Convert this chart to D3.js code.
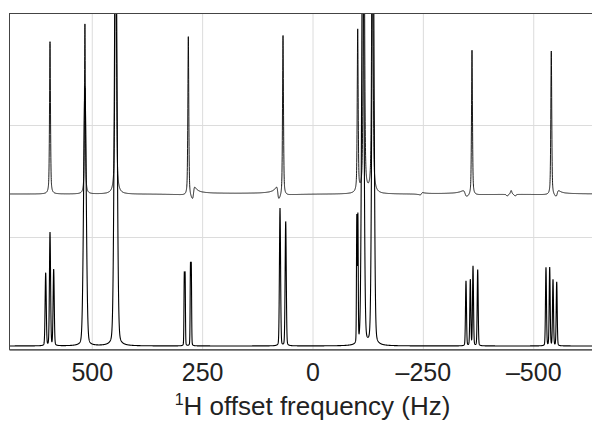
<!DOCTYPE html>
<html>
<head>
<meta charset="utf-8">
<script src="https://cdn.jsdelivr.net/npm/d3@7"></script>
<style>
  body { margin: 0; background: #fff; }
  text { font-family: "Liberation Sans", Arial, sans-serif; fill: #222; }
</style>
</head>
<body>
<div id="chart"></div>
<script>
/* CONSTANTS AND GLOBALS */
const width = 592,
  height = 425,
  margin = { top: 13, left: 9 },
  plotW = 607,
  plotH = 336;

// x ticks / grid (Hz), y grid (intensity units)
const xTicks = [500, 250, 0, -250, -500];
const yGrid = [1, 2];

// upper trace: peak list (Hz, height, FWHM in Hz)
const upperBase = 1.384;
const upperPos = [594.6, 515.5, 445.8, 281.3, 66.8, -102.4, -116.5, -135.6, -361.3, -540.9, -450, -441, -459];
const upperAmp = [1.36, 1.52, 3.0, 1.43, 1.44, 1.45, 3.0, 3.0, 1.30, 1.29, 0.035, -0.016, -0.016];
const upperFwhm = [2.5, 2.5, 3.5, 2.5, 2.5, 2.5, 3.5, 3.5, 2.5, 2.5, 4, 4, 4];

// upper trace: small phase-twisted (dispersive) artefacts
const dispPos = [269.4, 78.6, -246.8, -345.6, -554.4];
const dispAmp = [-0.054, 0.054, -0.01, 0.027, -0.027];
const dispGamma = [2.9, 2.9, 3, 4.5, 3.4];

// lower trace: resolved multiplets
const lowerBase = 0.027;
const lowerPos = [604.4, 594.6, 586.3, 515.5, 445.8,
  290.4, 288.6, 276.4, 274.6, 73.6, 60.7,
  -100.4, -102.8, -114, -137,
  -347.7, -357.5, -363.6, -374.2,
  -528.9, -537.3, -544.8, -553.2];
const lowerAmp = [0.65, 1.01, 0.68, 2.31, 4.0,
  0.62, 0.62, 0.70, 0.70, 1.23, 1.11,
  1.12, 1.12, 4.0, 4.0,
  0.58, 0.59, 0.71, 0.68,
  0.70, 0.70, 0.59, 0.57];
const lowerFwhm = [3, 3, 3, 7, 7,
  1.7, 1.7, 1.7, 1.7, 3, 3,
  1.8, 1.8, 6, 6,
  2.6, 2.6, 2.6, 2.6,
  2.6, 2.6, 2.6, 2.6];

let svg, xScale, yScale;

/* LINESHAPE: pseudo-Voigt sum of the peak list */
function trace(pos, amp, fwhm, eta, base, dPos = [], dAmp = [], dGam = []) {
  const pts = [];
  for (let hz = 690; hz >= -690; hz -= 0.15) {
    let v = base;
    for (let i = 0; i < pos.length; i++) {
      const u = (hz - pos[i]) / (fwhm[i] / 2);
      const lor = 1 / (1 + u * u);
      const gau = Math.exp(-Math.LN2 * u * u);
      v += amp[i] * (eta * lor + (1 - eta) * gau);
    }
    for (let i = 0; i < dPos.length; i++) {
      const u = (hz - dPos[i]) / dGam[i];
      v += dAmp[i] * 2 * u / (1 + u * u);
    }
    pts.push([hz, v]);
  }
  return pts;
}

function init() {
  xScale = d3.scaleLinear()
    .domain([687.5, -687.5])
    .range([margin.left, margin.left + plotW]);

  yScale = d3.scaleLinear()
    .domain([0, 3])
    .range([margin.top + plotH, margin.top]);

  svg = d3.select("#chart")
    .append("svg")
    .attr("width", width)
    .attr("height", height);

  svg.append("clipPath")
    .attr("id", "clip")
    .append("rect")
    .attr("x", margin.left)
    .attr("y", margin.top)
    .attr("width", plotW)
    .attr("height", plotH);

  // grid
  svg.append("g")
    .selectAll("line")
    .data(xTicks)
    .join("line")
    .attr("x1", d => xScale(d) + 0.5)
    .attr("x2", d => xScale(d) + 0.5)
    .attr("y1", margin.top)
    .attr("y2", margin.top + plotH)
    .attr("stroke", "#dcdcdc");

  svg.append("g")
    .selectAll("line")
    .data(yGrid)
    .join("line")
    .attr("x1", margin.left)
    .attr("x2", margin.left + plotW)
    .attr("y1", d => Math.round(yScale(d)) + 0.5)
    .attr("y2", d => Math.round(yScale(d)) + 0.5)
    .attr("stroke", "#dcdcdc");

  // spectra
  const line = d3.line()
    .x(d => xScale(d[0]))
    .y(d => yScale(d[1]));

  const spectra = [
    trace(upperPos, upperAmp, upperFwhm, 0.5, upperBase, dispPos, dispAmp, dispGamma),
    trace(lowerPos, lowerAmp, lowerFwhm, 0.15, lowerBase)
  ];

  svg.append("g")
    .attr("clip-path", "url(#clip)")
    .selectAll("path")
    .data(spectra)
    .join("path")
    .attr("fill", "none")
    .attr("stroke", "#000")
    .attr("stroke-width", (d, i) => i === 0 ? 0.9 : 1.1)
    .attr("d", line);

  // frame
  svg.append("rect")
    .attr("x", margin.left + 0.5)
    .attr("y", margin.top + 0.5)
    .attr("width", plotW)
    .attr("height", plotH)
    .attr("fill", "none")
    .attr("stroke", "#444");

  // x axis
  const fmt = d => (d < 0 ? "\u2013" + Math.abs(d) : String(d));
  const xAxis = svg.append("g")
    .attr("transform", `translate(0, ${margin.top + plotH + 0.5})`)
    .call(d3.axisBottom(xScale).tickValues(xTicks).tickSize(0).tickPadding(14).tickFormat(fmt));
  xAxis.select(".domain").attr("stroke", "#666").attr("stroke-width", 1.5);
  xAxis.selectAll("text")
    .attr("font-size", 25)
    .attr("font-family", "Liberation Sans, Arial, sans-serif")
    .attr("fill", "#222");

  // axis title
  const title = svg.append("text")
    .attr("x", margin.left + plotW / 2)
    .attr("y", 415)
    .attr("text-anchor", "middle")
    .attr("font-size", 26);
  title.append("tspan").attr("font-size", 16).attr("dy", -10).text("1");
  title.append("tspan").attr("dy", 10).text("H offset frequency (Hz)");
}

init();
</script>
</body>
</html>
